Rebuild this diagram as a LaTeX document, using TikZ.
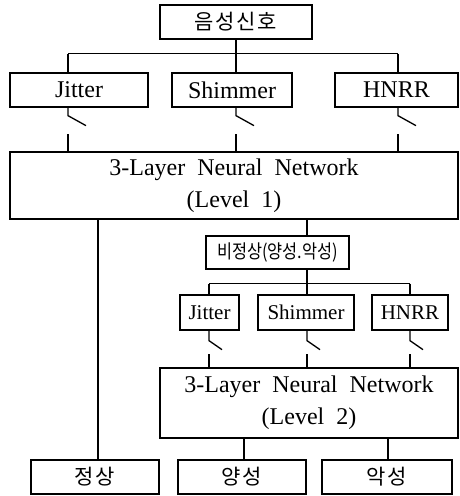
\documentclass[tikz,border=0pt]{standalone}
\usepackage{fontspec}
\setmainfont{Liberation Serif}
\newfontfamily\kr{Noto Sans CJK KR}
\newfontfamily\krnarrow[FakeStretch=0.86]{Noto Sans CJK KR}
\tikzset{
  box/.style={draw, line width=1.3pt, inner sep=0pt, minimum height=34pt},
  feat/.style={box, font=\fontsize{24}{24}\selectfont},
  featb/.style={box, minimum height=35pt, font=\fontsize{21}{21}\selectfont},
  net/.style={box, align=center, font=\fontsize{24}{32}\selectfont},
  cls/.style={box, font=\kr\fontsize{21}{21}\selectfont\addfontfeature{LetterSpace=8}},
  wire/.style={line width=1.3pt}
}
\begin{document}
\begin{tikzpicture}[x=1pt, y=-1pt]
        \useasboundingbox (0,0) rectangle (459,496);

        \node[cls, minimum width=152pt] (sig) at (236,22) {음성신호};

        \node[feat, minimum width=138pt] (jit1) at (79,90) {Jitter};
        \node[feat, minimum width=120pt] (shim1) at (232,90) {Shimmer};
        \node[feat, minimum width=123pt] (hnrr1) at (396.5,90) {HNRR};

        \node[net, minimum width=448pt, minimum height=67pt] (nn1) at (234,185.5)
            {3-Layer\ \ Neural\ \ Network\\(Level\ \ 1)};

        \node[box, minimum width=143pt, minimum height=33pt, font=\krnarrow\fontsize{19}{19}\selectfont] (abn) at (277.5,252.5) {비정상(양성.악성)};

        \node[featb, minimum width=59pt] (jit2) at (209.5,312.5) {Jitter};
        \node[featb, minimum width=96pt] (shim2) at (306,312.5) {Shimmer};
        \node[featb, minimum width=76pt] (hnrr2) at (410,312.5) {HNRR};

        \node[net, minimum width=298pt, minimum height=70pt] (nn2) at (309,403)
            {3-Layer\ \ Neural\ \ Network\\(Level\ \ 2)};

        \node[cls, minimum width=128pt] (norm) at (95,477) {정상};
        \node[cls, minimum width=128pt] (beni) at (242,477) {양성};
        \node[cls, minimum width=130pt] (mali) at (387,477) {악성};

        % taps of the switches
        \coordinate (t1) at (68,0);
        \coordinate (t2) at (236,0);
        \coordinate (t3) at (398,0);
        \coordinate (u1) at (209,0);
        \coordinate (u2) at (307,0);
        \coordinate (u3) at (410,0);

        % level 1
        \draw[wire] (sig.south) -- ++(0,14) coordinate (bus1);
        \draw[wire] (bus1 -| t1) -- (bus1 -| t3);
        \foreach \t/\b in {t1/jit1, t2/shim1, t3/hnrr1} {
            \draw[wire] (bus1 -| \t) -- (\b.north -| \t);
            \draw[wire] (\b.south -| \t) -- ++(0,8) -- ++(18,10);
            \draw[wire] (nn1.north -| \t) -- ++(0,-17);
        }
        \draw[wire] (nn1.south -| 98,0) -- (norm.north -| 98,0);
        \draw[wire] (nn1.south -| u2) -- (abn.north -| u2);

        % level 2
        \draw[wire] (abn.south -| u2) -- ++(0,14) coordinate (bus2);
        \draw[wire] (bus2 -| u1) -- (bus2 -| u3);
        \foreach \t/\b in {u1/jit2, u2/shim2, u3/hnrr2} {
            \draw[wire] (bus2 -| \t) -- (\b.north -| \t);
            \draw[wire] (\b.south -| \t) -- ++(0,10) -- ++(13,9);
            \draw[wire] (nn2.north -| \t) -- ++(0,-13);
        }
        \draw[wire] (nn2.south -| 244,0) -- (beni.north -| 244,0);
        \draw[wire] (nn2.south -| 388,0) -- (mali.north -| 388,0);
    \end{tikzpicture}
\end{document}
